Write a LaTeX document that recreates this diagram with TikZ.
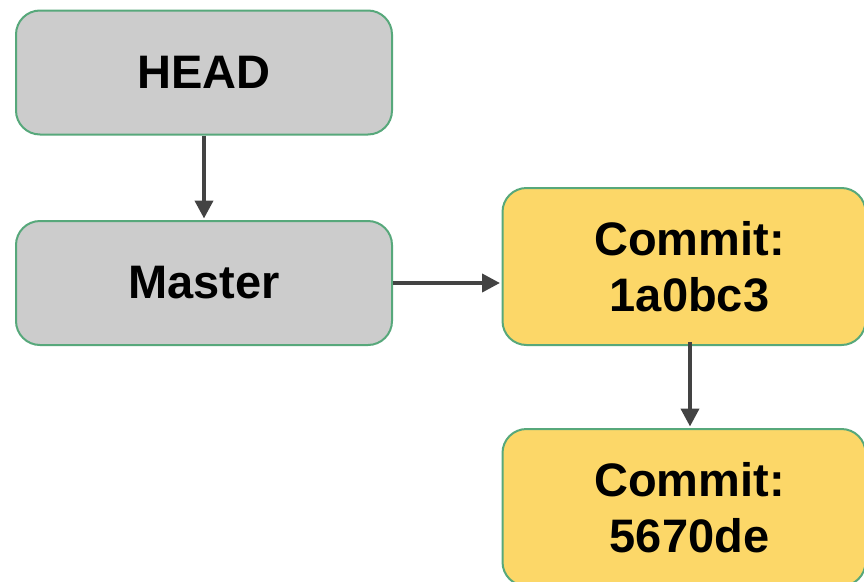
\documentclass[tikz,border=0pt]{standalone}
\usepackage{fontspec}
\setmainfont{Liberation Sans}
\usetikzlibrary{arrows.meta}
\definecolor{refgray}{HTML}{CCCCCC}
\definecolor{commityellow}{HTML}{FCD768}
\definecolor{boxedge}{HTML}{57A87B}
\definecolor{arrowgray}{HTML}{434343}
\newcommand{\pushright}{\hspace*{11pt}}
\tikzset{
  box/.style={draw=boxedge, line width=2pt, rounded corners=24pt,
    minimum width=#1, align=center, inner sep=0pt,
    font=\fontsize{47}{56}\selectfont\bfseries},
  refbox/.style={box=376pt, fill=refgray, minimum height=124pt},
  commitbox/.style={box=363pt, fill=commityellow, minimum height=157pt},
  link/.style={draw=arrowgray, line width=4pt,
    -{Triangle[length=18pt,width=18pt]}, shorten >=1.5pt}
}
\begin{document}
\begin{tikzpicture}[x=1pt, y=-1pt]
  \useasboundingbox (0,0) rectangle (864,581);
  \clip (0,0) rectangle (864,581);
  \node[refbox] (head) at (204,72.5) {HEAD};
  \node[refbox] (master) at (204,283) {Master};
  \node[commitbox] (c1) at (684,266.5) {\pushright Commit:\\\pushright 1a0bc3};
  \node[commitbox] (c2) at (684,507.5) {\pushright Commit:\\\pushright 5670de};
  \draw[link] (head.south) -- (master.north);
  \draw[link] (master.east) -- (c1.west |- master.east);
  \draw[link] ([xshift=6pt,yshift=4pt]c1.south) -- ([xshift=6pt]c2.north);
\end{tikzpicture}
\end{document}
